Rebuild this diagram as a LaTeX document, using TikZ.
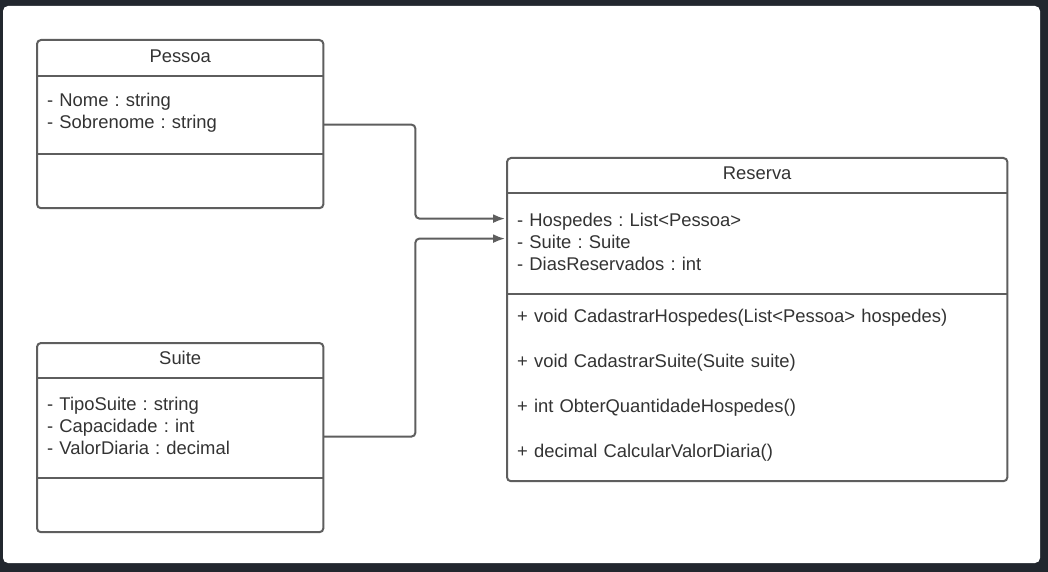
\documentclass[tikz,border=0pt]{standalone}
\usepackage{fontspec}
\setmainfont{Liberation Sans}
\usetikzlibrary{positioning,arrows.meta}
\frenchspacing

\definecolor{bgdark}{HTML}{22272E}
\definecolor{umlline}{HTML}{5E5E5E}
\definecolor{umltext}{HTML}{333333}

\tikzset{
  part/.style={draw=none, text=umltext, inner xsep=10pt, inner ysep=0pt,
    font=\fontsize{18.4}{22}\selectfont},
  ctitle/.style={part, align=center, text depth=5pt},
  cbody/.style={part, align=left, execute at end node={\par\vspace*{4pt}}},
  frame/.style={draw=umlline, line width=2pt, rounded corners=4pt},
  divider/.style={draw=umlline, line width=2pt},
  conn/.style={draw=umlline, line width=2pt, rounded corners=4pt,
    -{Latex[length=12pt,width=9pt]}, shorten >=2pt},
}

\begin{document}
\begin{tikzpicture}[x=1pt, y=-1pt]
  % background panel
  \fill[bgdark] (0,0) rectangle (1048,572);
  \fill[white, rounded corners=5pt] (3,6) rectangle (1040,563);

  % Pessoa
  \node[ctitle, minimum width=286pt, minimum height=36pt, anchor=north west] (pessoa) at (37,40) {Pessoa};
  \node[cbody, text width=266pt, minimum height=77pt, below=0pt of pessoa] (pessoaattr) {- Nome : string\\- Sobrenome : string};
  \node[cbody, text width=266pt, minimum height=54pt, below=0pt of pessoaattr] (pessoameth) {};

  % Suite
  \node[ctitle, minimum width=286pt, minimum height=35pt, anchor=north west] (suite) at (37,343) {Suite};
  \node[cbody, text width=266pt, minimum height=99pt, below=0pt of suite] (suiteattr) {- TipoSuite : string\\- Capacidade : int\\- ValorDiaria : decimal};
  \node[cbody, text width=266pt, minimum height=54pt, below=0pt of suiteattr] (suitemeth) {};

  % Reserva
  \node[ctitle, minimum width=500pt, minimum height=35pt, anchor=north west] (reserva) at (507,158) {Reserva};
  \node[cbody, text width=480pt, minimum height=100pt, below=0pt of reserva] (reservaattr) {- Hospedes : List<Pessoa>\\- Suite : Suite\\- DiasReservados : int};
  \node[cbody, text width=480pt, minimum height=187pt, below=0pt of reservaattr] (reservameth) {+ void CadastrarHospedes(List<Pessoa> hospedes)\\[23pt]+ void CadastrarSuite(Suite suite)\\[23pt]+ int ObterQuantidadeHospedes()\\[23pt]+ decimal CalcularValorDiaria()};

  % frames and dividers
  \foreach \c in {pessoa, suite, reserva} {
    \draw[frame] (\c.north west) rectangle (\c meth.south east);
    \draw[divider] (\c attr.north west) -- (\c attr.north east);
    \draw[divider] (\c meth.north west) -- (\c meth.north east);
  }

  % associations
  \draw[conn] ([yshift=-9.5pt]pessoaattr.east) -- ++(92,0) |- ([yshift=25pt]reservaattr.west);
  \draw[conn] ([yshift=-8.5pt]suiteattr.east) -- ++(92,0) |- ([yshift=5pt]reservaattr.west);
\end{tikzpicture}
\end{document}
